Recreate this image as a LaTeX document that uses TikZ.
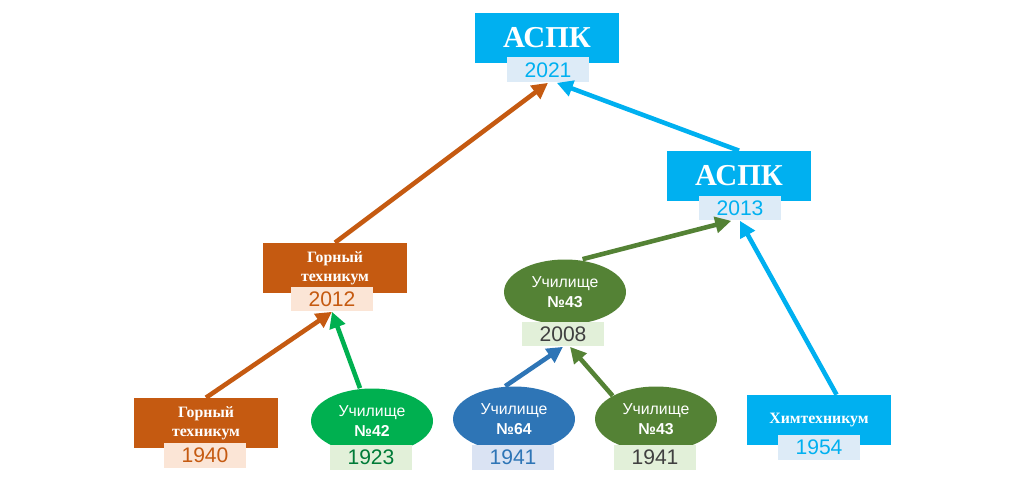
\documentclass[tikz,border=0pt]{standalone}
\usepackage{fontspec}
\setmainfont{Liberation Serif}
\newfontfamily\sansf{Liberation Sans}
\usetikzlibrary{arrows.meta,positioning,shapes.geometric}
\definecolor{cyanC}{HTML}{00B0F0}
\definecolor{cyanL}{HTML}{DDEBF7}
\definecolor{orgC}{HTML}{C55A11}
\definecolor{orgL}{HTML}{FBE5D6}
\definecolor{grnC}{HTML}{00B050}
\definecolor{oliveC}{HTML}{548235}
\definecolor{grnL}{HTML}{E2F0D9}
\definecolor{bluC}{HTML}{2E75B6}
\definecolor{bluL}{HTML}{DAE3F3}
\begin{document}
\begin{tikzpicture}[
    x=0.02cm, y=-0.02cm,
    box/.style={rectangle, fill=#1, minimum width=2.88cm, minimum height=1cm, align=center, text=white, font=\bfseries\small, inner sep=1pt},
    year/.style={rectangle, fill=#1, minimum width=1.64cm, minimum height=0.5cm, font=\sansf\large, inner sep=1pt},
    oval/.style={ellipse, fill=#1, minimum width=2.44cm, minimum height=1.3cm, align=center, text=white, font=\sansf\small, inner sep=0pt},
    arrow/.style={-{Triangle[length=3.2mm,width=3.2mm]}, line width=2.6pt, draw=#1}
]
    \useasboundingbox (0,0) rectangle (1024,486);
    % top
    \node[box=cyanC, font=\bfseries\LARGE] (aspkA) at (547,38) {АСПК};
    \node[year=cyanL, text=cyanC] (yA) at (548,70) {2021};
    \node[box=cyanC, font=\bfseries\LARGE] (aspkB) at (739,176) {АСПК};
    \node[year=cyanL, text=cyanC] (yB) at (740,208) {2013};
    % middle
    \node[box=orgC] (gornB) at (335,268) {Горный\\техникум};
    \node[year=orgL, text=orgC] (yG) at (332,299) {2012};
    \node[oval=oliveC] (u43a) at (565,292) {Училище\\\textbf{№43}};
    \node[year=grnL, text=black!75] (y43a) at (563,334) {2008};
    % bottom
    \node[box=orgC] (gornA) at (206,423) {Горный\\техникум};
    \node[year=orgL, text=orgC] (yGa) at (205,455) {1940};
    \node[oval=grnC] (u42) at (372,421) {Училище\\\textbf{№42}};
    \node[year=grnL, text=grnC!70!black] (y42) at (371,457) {1923};
    \node[oval=bluC] (u64) at (514,419) {Училище\\\textbf{№64}};
    \node[year=bluL, text=bluC] (y64) at (513,457) {1941};
    \node[oval=oliveC] (u43b) at (656,419) {Училище\\\textbf{№43}};
    \node[year=grnL, text=black!75] (y43b) at (655,457) {1941};
    \node[box=cyanC] (him) at (819,420) {Химтехникум};
    \node[year=cyanL, text=cyanC] (yH) at (819,447) {1954};

    \draw[arrow=orgC] (gornA.north) -- (yG.south);
    \draw[arrow=grnC] (u42.north) ++(-12,0) coordinate (t42) (t42) -- (yG.south);
    \draw[arrow=orgC] (gornB.north) -- (yA.south);
    \draw[arrow=cyanC] (aspkB.north) -- ([xshift=5pt]yA.south);
    \draw[arrow=oliveC] ([xshift=10pt]u43a.north) -- ([xshift=-5pt]yB.south);
    \draw[arrow=bluC] ([xshift=-5pt]u64.north) -- (y43a.south);
    \draw[arrow=oliveC] (u43b.north west) -- ([xshift=4pt]y43a.south);
    \draw[arrow=cyanC] ([xshift=10pt]him.north) -- (yB.south);
\end{tikzpicture}
\end{document}
